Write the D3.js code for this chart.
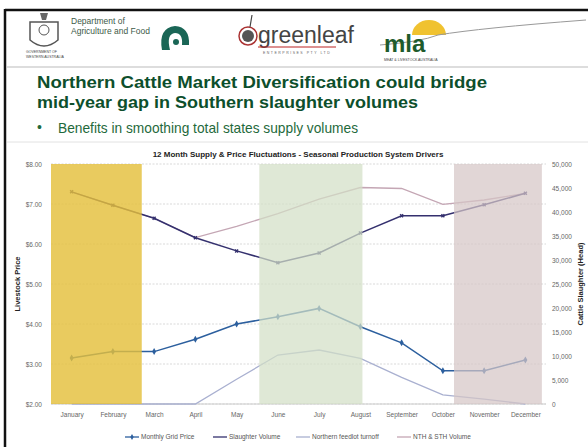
<!DOCTYPE html>
<html><head><meta charset="utf-8">
<script src="https://cdn.jsdelivr.net/npm/d3@7"></script>
<style>body{margin:0;background:#fff;}svg{display:block;}</style>
</head><body>
<svg id="c" width="588" height="447"></svg>
<script>
// ---- data ----
const months = ["January","February","March","April","May","June","July","August","September","October","November","December"];
const gridPrice = [3.15, 3.31, 3.31, 3.62, 4.00, 4.18, 4.39, 3.93, 3.53, 2.83, 2.83, 3.10];
const slaughterVolume = [44200, 41400, 38700, 34650, 31900, 29450, 31450, 35600, 39200, 39200, 41500, 43900];
const northernTurnoff = [0, 0, 0, 0, 5150, 10200, 11250, 9500, 5550, 1900, 1000, 0];
const nthSthVolume = [44200, 41400, 38700, 34650, 37000, 39650, 42700, 45100, 44900, 41600, 42500, 43900];
const priceTicks = [2, 3, 4, 5, 6, 7, 8];
const volumeTicks = [0, 5000, 10000, 15000, 20000, 25000, 30000, 35000, 40000, 45000, 50000];
const seasonBands = [[-0.5, 1.7], [4.55, 7.05], [9.27, 11.4]];
const bandColors = ["#e4bf3c", "#d3dfc6", "#d6c6c6"];
const seriesNames = ["Monthly Grid Price", "Slaughter Volume", "Northern feedlot turnoff", "NTH & STH Volume"];

const svg = d3.select("#c");
const font = "'Liberation Sans', Arial, sans-serif";

// ---- slide frame & header ----
svg.append("rect").attr("x",0).attr("y",0).attr("width",588).attr("height",447).attr("fill","#fff");
svg.append("line").attr("x1",5).attr("x2",588).attr("y1",10).attr("y2",10).attr("stroke","#111").attr("stroke-width",2.5);
svg.append("line").attr("x1",5).attr("x2",5).attr("y1",9).attr("y2",447).attr("stroke","#111").attr("stroke-width",2.5);
svg.append("line").attr("x1",7).attr("x2",588).attr("y1",67).attr("y2",67).attr("stroke","#bbb").attr("stroke-width",1);
svg.append("line").attr("x1",7).attr("x2",588).attr("y1",142).attr("y2",142).attr("stroke","#e2e2e2").attr("stroke-width",1);

// logos (approximations)
const hdr = svg.append("g");
hdr.append("path").attr("d","M30,22 L58,22 L58,40 Q44,52 30,40 Z").attr("fill","none").attr("stroke","#555").attr("stroke-width",1.5);
hdr.append("circle").attr("cx",44).attr("cy",30).attr("r",5).attr("fill","none").attr("stroke","#555");
hdr.append("path").attr("d","M40,13 L48,13 L46,20 L42,20 Z").attr("fill","#666");
hdr.append("text").attr("x",26).attr("y",53).attr("font-size",3.5).attr("fill","#444").attr("font-family",font).text("GOVERNMENT OF");
hdr.append("text").attr("x",26).attr("y",58).attr("font-size",3.5).attr("fill","#444").attr("font-family",font).text("WESTERN AUSTRALIA");
hdr.append("text").attr("x",71).attr("y",24).attr("font-size",8.5).attr("fill","#3d5a48").attr("font-family",font).text("Department of");
hdr.append("text").attr("x",71).attr("y",34).attr("font-size",8.5).attr("fill","#3d5a48").attr("font-family",font).text("Agriculture and Food");
hdr.append("path").attr("d","M162,50 Q158,28 175,26 Q190,27 189,45 L182,45 Q183,33 175,33 Q166,34 170,50 Z").attr("fill","#1a6656");
hdr.append("circle").attr("cx",176).attr("cy",42).attr("r",3).attr("fill","#1a6656");
hdr.append("circle").attr("cx",248).attr("cy",36).attr("r",9).attr("fill","#fff").attr("stroke","#a33").attr("stroke-width",1.5);
hdr.append("circle").attr("cx",248).attr("cy",36).attr("r",6).attr("fill","#555");
hdr.append("line").attr("x1",250).attr("x2",252).attr("y1",27).attr("y2",15).attr("stroke","#444").attr("stroke-width",1.2);
hdr.append("text").attr("x",258).attr("y",43).attr("font-size",23).attr("fill","#444").attr("font-family",font).text("greenleaf");
hdr.append("line").attr("x1",258).attr("x2",336).attr("y1",47).attr("y2",47).attr("stroke","#b22").attr("stroke-width",1);
hdr.append("text").attr("x",263).attr("y",54).attr("font-size",3.5).attr("fill","#666").attr("letter-spacing",1.5).attr("font-family",font).text("ENTERPRISES PTY LTD");
hdr.append("path").attr("d","M412,35 A17,15 0 0 1 446,35 Z").attr("fill","#f0c230");
hdr.append("path").attr("d","M380,45 Q420,42 438,35 Q480,28 586,20").attr("fill","none").attr("stroke","#999").attr("stroke-width",1);
hdr.append("text").attr("x",384).attr("y",52).attr("font-size",24).attr("font-weight","bold").attr("fill","#1e5b2c").attr("font-family",font).text("mla");
hdr.append("text").attr("x",384).attr("y",61).attr("font-size",3.5).attr("fill","#444").attr("font-family",font).text("MEAT & LIVESTOCK AUSTRALIA");

// title
const titleColor = "#0d4f2c";
svg.append("text").attr("x",37).attr("y",88).attr("font-size",17).attr("font-weight","bold").attr("fill",titleColor).attr("font-family",font)
  .attr("textLength",450).attr("lengthAdjust","spacingAndGlyphs").text("Northern Cattle Market Diversification could bridge");
svg.append("text").attr("x",37).attr("y",108).attr("font-size",17).attr("font-weight","bold").attr("fill",titleColor).attr("font-family",font)
  .attr("textLength",381).attr("lengthAdjust","spacingAndGlyphs").text("mid-year gap in Southern slaughter volumes");
svg.append("text").attr("x",37).attr("y",132).attr("font-size",14).attr("fill","#1f6a3c").attr("font-family",font).text("•");
svg.append("text").attr("x",58).attr("y",133).attr("font-size",14.5).attr("fill","#1f6a3c").attr("font-family",font)
  .attr("textLength",300).attr("lengthAdjust","spacingAndGlyphs").text("Benefits in smoothing total states supply volumes");

// ---- chart ----
const x = d3.scaleLinear().domain([-0.5, 11.5]).range([51, 546]);
const yP = d3.scaleLinear().domain([2, 8]).range([404, 164]);
const yV = d3.scaleLinear().domain([0, 50000]).range([404, 164]);

svg.append("text").attr("x",298).attr("y",157).attr("text-anchor","middle").attr("font-size",8).attr("font-weight","bold")
  .attr("fill","#222").attr("font-family",font).text("12 Month Supply & Price Fluctuations - Seasonal Production System Drivers");

// gridlines
svg.append("g").selectAll("line").data(priceTicks).join("line")
  .attr("x1",x(-0.5)).attr("x2",x(11.5)).attr("y1",d=>yP(d)).attr("y2",d=>yP(d))
  .attr("stroke","#cfcfcf").attr("stroke-width",0.8).attr("stroke-dasharray","2,1.5");

// axes
const axL = svg.append("g").attr("transform",`translate(${x(-0.5)},0)`)
  .call(d3.axisLeft(yP).tickValues(priceTicks).tickFormat(d=>"$"+d3.format(".2f")(d)).tickSize(0).tickPadding(9));
const axR = svg.append("g").attr("transform",`translate(${x(11.5)},0)`)
  .call(d3.axisRight(yV).tickValues(volumeTicks).tickFormat(d=>d===0?"0":d3.format(",")(d)).tickSize(0).tickPadding(6));
const axB = svg.append("g").attr("transform",`translate(0,${yP(2)})`)
  .call(d3.axisBottom(x).tickValues(d3.range(12)).tickFormat(i=>months[i]).tickSize(0).tickPadding(8));
[axL,axR,axB].forEach(a=>{a.select(".domain").remove();a.selectAll("text").attr("font-size",6.5).attr("fill","#666").attr("font-family",font);});
svg.append("line").attr("x1",x(-0.5)).attr("x2",x(11.5)).attr("y1",yP(2)).attr("y2",yP(2)).attr("stroke","#ccc");

svg.append("text").attr("transform",`translate(20,${yP(5)}) rotate(-90)`).attr("text-anchor","middle").attr("font-size",7.5)
  .attr("font-weight","bold").attr("fill","#222").attr("font-family",font).text("Livestock Price");
svg.append("text").attr("transform",`translate(583,${yV(25000)}) rotate(-90)`).attr("text-anchor","middle").attr("font-size",7.5)
  .attr("font-weight","bold").attr("fill","#222").attr("font-family",font).text("Cattle Slaughter (Head)");

// lines
const colors = ["#2c5f9e", "#34306e", "#a9b0d0", "#c4a6b4"];
const lineP = d3.line().x((d,i)=>x(i)).y(d=>yP(d));
const lineV = d3.line().x((d,i)=>x(i)).y(d=>yV(d));
const lines = svg.append("g").attr("fill","none");
lines.append("path").datum(northernTurnoff).attr("d",lineV).attr("stroke",colors[2]).attr("stroke-width",1.3);
lines.append("path").datum(nthSthVolume).attr("d",lineV).attr("stroke",colors[3]).attr("stroke-width",1.3);
lines.append("path").datum(slaughterVolume).attr("d",lineV).attr("stroke",colors[1]).attr("stroke-width",1.5);
lines.append("path").datum(gridPrice).attr("d",lineP).attr("stroke",colors[0]).attr("stroke-width",1.5);
svg.append("g").selectAll("path").data(gridPrice).join("path")
  .attr("transform",(d,i)=>`translate(${x(i)},${yP(d)})`).attr("d",d3.symbol(d3.symbolDiamond,14)).attr("fill",colors[0]);
svg.append("g").selectAll("path").data(slaughterVolume).join("path")
  .attr("transform",(d,i)=>`translate(${x(i)},${yV(d)}) rotate(45)`).attr("d",d3.symbol(d3.symbolCross,10)).attr("fill",colors[1]);

// seasonal bands (translucent, over lines)
svg.append("g").selectAll("rect").data(seasonBands).join("rect")
  .attr("x",d=>x(d[0])).attr("width",d=>x(d[1])-x(d[0])).attr("y",yP(8)).attr("height",yP(2)-yP(8))
  .attr("fill",(d,i)=>bandColors[i]).attr("opacity",(d,i)=>i===0?0.82:0.72);

// legend
const legX = [125, 213, 296, 397];
const leg = svg.append("g").attr("font-family",font);
seriesNames.forEach((n,i)=>{
  const g = leg.append("g").attr("transform",`translate(${legX[i]},437)`);
  g.append("line").attr("x1",0).attr("x2",14).attr("stroke",colors[i]).attr("stroke-width",1.3);
  if(i===0) g.append("path").attr("transform","translate(7,0)").attr("d",d3.symbol(d3.symbolDiamond,10)).attr("fill",colors[0]);
  g.append("text").attr("x",16).attr("y",2.2).attr("font-size",6.5).attr("fill","#555").text(n);
});
</script>
</body></html>
